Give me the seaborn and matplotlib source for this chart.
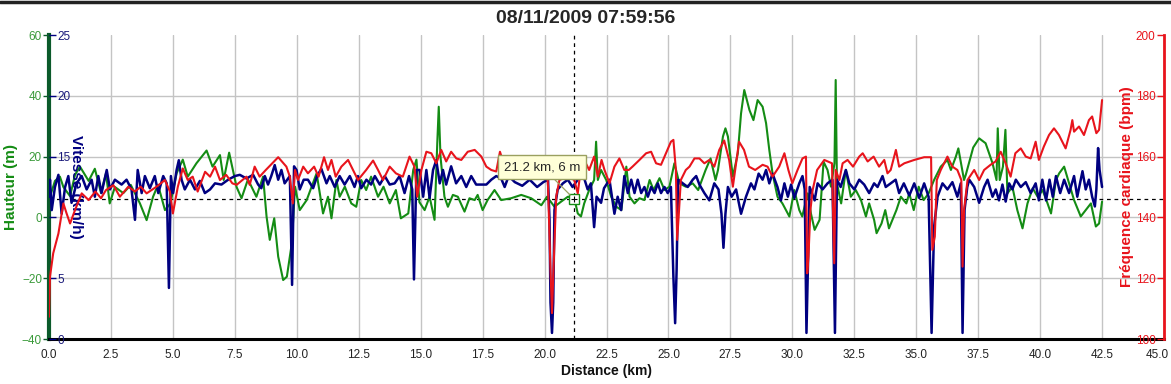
import numpy as np
import pandas as pd
import matplotlib
matplotlib.use("Agg")
import matplotlib.pyplot as plt
from matplotlib.ticker import FormatStrFormatter
from matplotlib.transforms import ScaledTranslation
import seaborn as sns

# Altitude (m)
alt_km = [0.0, 0.24, 0.44, 0.58, 0.85, 1.05, 1.25, 1.6, 1.85, 2.1, 2.3, 2.45, 2.66, 3.0, 3.3, 3.67, 3.94,
          4.2, 4.4, 4.68, 4.9, 5.15, 5.4, 5.6, 5.95, 6.36, 6.6, 6.9, 7.05, 7.27, 7.57, 7.77, 8.03, 8.37,
          8.64, 8.78, 8.91, 9.09, 9.25, 9.45, 9.6, 9.8, 9.93, 10.12, 10.4, 10.8, 11.06, 11.26, 11.4, 11.6,
          11.73, 11.94, 12.2, 12.4, 12.6, 12.8, 13.0, 13.28, 13.5, 13.75, 14.0, 14.2, 14.5, 14.7, 14.83,
          14.95, 15.16, 15.36, 15.56, 15.67, 15.73, 15.8, 15.96, 16.1, 16.3, 16.5, 16.77, 16.97, 17.18,
          17.3, 17.5, 17.7, 17.98, 18.25, 18.65, 19.06, 19.46, 19.87, 20.1, 20.4, 20.67, 20.94, 21.2,
          21.34, 21.47, 21.6, 21.8, 22.0, 22.08, 22.15, 22.28, 22.49, 22.69, 22.9, 23.1, 23.3, 23.43,
          23.63, 23.83, 24.03, 24.24, 24.4, 24.64, 24.84, 25.04, 25.24, 25.44, 25.7, 25.98, 26.2, 26.5,
          26.7, 26.9, 27.0, 27.2, 27.3, 27.4, 27.6, 27.8, 27.93, 28.06, 28.27, 28.43, 28.6, 28.8, 28.94,
          29.07, 29.2, 29.4, 29.6, 29.88, 30.08, 30.28, 30.4, 30.62, 30.75, 30.9, 31.1, 31.26, 31.42,
          31.56, 31.7, 31.75, 31.8, 31.97, 32.16, 32.36, 32.56, 32.77, 32.97, 33.1, 33.3, 33.4, 33.6,
          33.75, 33.9, 34.2, 34.38, 34.6, 34.72, 34.9, 35.1, 35.3, 35.5, 35.72, 35.99, 36.26, 36.4, 36.6,
          36.7, 36.93, 37.0, 37.3, 37.54, 37.8, 38.08, 38.24, 38.29, 38.37, 38.5, 38.6, 38.68, 38.88,
          39.08, 39.29, 39.49, 39.7, 39.9, 40.1, 40.3, 40.44, 40.64, 40.77, 40.97, 41.17, 41.37, 41.64,
          41.84, 42.05, 42.25, 42.38, 42.5]
alt_m = [5.7, 12, 13.4, 10, 7, 14, 16.7, 12, 16, 8, 14.5, 4.6, 10, 8, 10.7, 4.6, -0.9,
         6.8, 10.7, 2.4, 4.6, 14.5, 19, 13.4, 17.8, 22, 16.7, 20.5, 12.3, 21.3, 10, 6.3, 12.5, 6.8,
         13.4, 0.3, -7.4, -0.3, -12.9, -20.6, -19.5, -8.5, 10.1, 2.4, 5.7, 14.5, 1.3, 6.8, -0.3, 12.3,
         6.8, 10.1, 4.6, 3.5, 12.3, 9, 13.4, 6.8, 10.1, 4.6, 9, -0.3, 1.3, 15.6, 19,
         5, 2.4, 6.8, -0.8, 24.4, 36.4, 20, 6.8, 3.5, 7.4, 6.8, 1.9, 6.3, 5.7,
         7.4, 2.4, 5.7, 9, 5.7, 6.3, 7.4, 6.3, 4, 6.8, 3.5, 5.2, 6.8, 6.3,
         1.3, 0.3, 4.6, 9, 12.3, 24.9, 12.3, 15.6, 12.3, 6.8, 3.5, 2.4, 16.7, 6.8,
         4.6, 6.3, 5.7, 12.3, 9, 12.9, 9, 10.1, 17.8, 11.2, 10.1, 11.2, 9, 15.6,
         19.4, 12.3, 15.6, 26.6, 29.3, 26.6, 13.4, 21.1, 34.2, 41.9, 35.3, 32, 38.6, 36.4, 31,
         22.2, 14.5, 6.8, 4.6, 0.3, 9, 2.4, 0.3, 7.9, 1.3, -4.1, -0.8, 18.3, 15.6,
         10.1, 17.8, 45.2, 11.2, 4.6, 15.6, 6.8, 9, 5.7, 0.3, 4.6, -0.8, -5.2, -2,
         2.4, -3.6, 2.4, 6.8, 4.6, 7.9, 2.4, 10.1, 5.7, 7.9, 12.3, 16.7, 18.9, 15.6, 20,
         22.7, 12.3, 14, 23, 26, 24.4, 17.8, 12.3, 29.3, 12.3, 16.7, 28.8, 7.9, 10.1,
         2.4, -3.6, 4.6, 9.6, 6.8, 9, 4.6, 1.3, 12.3, 14.5, 16.7, 11.2, 5.7, 0.3,
         2.4, 4.6, -3, -2, 5.2]

# Speed (km/h)
spd_km = [0.0, 0.04, 0.11, 0.24, 0.38, 0.51, 0.65, 0.78, 0.91, 1.11, 1.32, 1.52, 1.72, 1.85, 1.99, 2.12,
          2.33, 2.46, 2.66, 2.93, 3.13, 3.33, 3.47, 3.58, 3.74, 3.87, 4.07, 4.27, 4.41, 4.61, 4.75, 4.84,
          4.92, 5.01, 5.15, 5.24, 5.35, 5.48, 5.69, 5.89, 6.09, 6.29, 6.5, 6.7, 6.96, 7.23, 7.5, 7.7,
          7.97, 8.24, 8.44, 8.57, 8.71, 8.84, 8.97, 9.11, 9.25, 9.38, 9.51, 9.72, 9.81, 9.89, 9.99,
          10.12, 10.28, 10.45, 10.66, 10.82, 10.99, 11.2, 11.33, 11.53, 11.73, 11.93, 12.14, 12.33,
          12.47, 12.6, 12.81, 13.0, 13.15, 13.35, 13.55, 13.75, 13.95, 14.15, 14.35, 14.53, 14.66,
          14.73, 14.83, 14.96, 15.1, 15.23, 15.36, 15.5, 15.63, 15.77, 15.9, 16.03, 16.23, 16.43,
          16.64, 16.84, 17.04, 17.24, 17.45, 17.65, 17.85, 18.05, 18.25, 18.39, 18.55, 18.8, 19.1,
          19.4, 19.7, 19.95, 20.14, 20.2, 20.24, 20.3, 20.35, 20.4, 20.53, 20.74, 20.94, 21.13, 21.34,
          21.54, 21.74, 21.87, 22.0, 22.1, 22.28, 22.4, 22.62, 22.82, 22.95, 23.09, 23.22, 23.36,
          23.5, 23.63, 23.76, 23.9, 24.03, 24.17, 24.3, 24.44, 24.57, 24.7, 24.84, 24.97, 25.1, 25.2,
          25.27, 25.33, 25.39, 25.58, 25.78, 25.98, 26.12, 26.25, 26.45, 26.65, 26.85, 27.02, 27.14,
          27.22, 27.3, 27.4, 27.55, 27.73, 27.93, 28.13, 28.33, 28.47, 28.64, 28.8, 28.94, 29.07,
          29.2, 29.4, 29.54, 29.68, 29.82, 29.95, 30.08, 30.28, 30.41, 30.5, 30.57, 30.62, 30.7, 30.9,
          31.02, 31.22, 31.42, 31.62, 31.72, 31.8, 31.95, 32.16, 32.3, 32.5, 32.7, 32.9, 33.1, 33.3,
          33.44, 33.64, 33.77, 33.97, 34.17, 34.31, 34.5, 34.72, 34.92, 35.12, 35.32, 35.5, 35.62,
          35.72, 35.86, 36.06, 36.26, 36.46, 36.66, 36.8, 36.87, 36.95, 37.06, 37.14, 37.34, 37.54,
          37.74, 37.88, 38.08, 38.21, 38.34, 38.48, 38.61, 38.75, 38.88, 39.02, 39.22, 39.42, 39.62,
          39.82, 39.95, 40.09, 40.24, 40.38, 40.51, 40.64, 40.81, 40.97, 41.17, 41.37, 41.5, 41.71,
          41.84, 41.97, 42.1, 42.21, 42.27, 42.34, 42.4, 42.5]
spd_kmh = [11.7, 13.1, 10.6, 12.5, 13.5, 10.3, 12.5, 13.4, 11.2, 12.8, 13.4, 12.3, 13.1, 11.7, 13.4, 12,
           13.9, 12.3, 13.1, 12.7, 13.1, 12.3, 9.8, 13.9, 12, 13.4, 12.4, 13.4, 12, 13.4, 12.8, 4.2,
           13.4, 12, 13.9, 14.7, 13.1, 12.3, 13.1, 12.3, 13, 12, 12.3, 12.8, 12.7, 13.1, 13.4, 13.5,
           13.2, 13.5, 12.7, 12.4, 13.4, 12.7, 13.4, 14.3, 13.1, 13.9, 12.8, 13.4, 4.45, 14.2, 13.9,
           12.3, 13.1, 13.1, 12.4, 13.4, 14, 12.8, 13.4, 12.5, 13.4, 12.7, 13.4, 12.5,
           13.4, 12.4, 13.1, 12.7, 13.4, 12.7, 13.4, 12.7, 12.8, 13.4, 12, 13.4, 12.3,
           4.9, 13.9, 13.9, 11.7, 13.9, 11.6, 13.9, 14.7, 12.8, 13.9, 12.7, 14.2, 12.8,
           13.4, 12.5, 13.4, 12.7, 12.7, 12.7, 13.1, 13.4, 13.2, 12.5, 13.4, 12.9, 12.6,
           13.1, 12.5, 12.9, 13.1, 9.8, 3, 0.5, 3, 10.6, 12.3, 12.8, 13.1, 12.5, 13.1,
           13.6, 12.3, 12.8, 9.2, 11.7, 11.2, 12.4, 13.1, 10.3, 11.7, 10.6, 13.4, 12,
           13.1, 12, 13.1, 12, 12.5, 11.7, 12.5, 12, 12.8, 12, 12.5, 12, 12.5, 5.1,
           1.3, 5.7, 13.1, 12.8, 12.5, 13.1, 13.4, 12.7, 12, 11.4, 12.8, 12.3, 10.3,
           7.5, 10.3, 12.5, 11.7, 12.3, 10.3, 11.7, 12.8, 12.3, 13.6, 13.1, 13.9, 12.8,
           13.6, 12.5, 11.4, 12.8, 11.7, 12.7, 11.6, 12.8, 13.4, 12.3, 0.5, 5.1, 12.5, 11.4,
           12.8, 12.3, 12.8, 13.1, 0.5, 13.1, 12.5, 13.9, 12.8, 12.3, 13.1, 12.7, 12, 12.8,
           12.5, 13.4, 12.5, 12.8, 13.1, 12, 12.8, 11.8, 12.8, 11.6, 12.8, 11.7, 0.5,
           9.2, 11.7, 12.8, 12.3, 12.9, 11.7, 12.8, 0.5, 10.6, 12.5, 13.1, 12.5, 11.2,
           12.5, 13.1, 11.7, 12.3, 11.4, 12.7, 11.3, 12.8, 12.3, 13.1, 12.5, 12.9, 12,
           12.8, 11.4, 13.1, 11.4, 13.1, 11.7, 13.4, 12, 13.1, 12, 13.4, 11.7, 13.8,
           12.3, 13.1, 11.7, 10.9, 12.3, 15.7, 13.9, 12.5]

# Heart rate (bpm)
hr_km = [0.0, 0.04, 0.17, 0.38, 0.58, 0.71, 0.85, 1.05, 1.32, 1.6, 1.87, 2.1, 2.3, 2.6, 2.86, 3.2, 3.47,
         3.7, 3.94, 4.34, 4.68, 4.88, 5.0, 5.2, 5.4, 5.6, 5.8, 6.0, 6.3, 6.5, 6.7, 6.9, 7.15, 7.4,
         7.57, 7.97, 8.1, 8.3, 8.5, 8.75, 9.25, 9.58, 9.72, 9.84, 9.93, 10.05, 10.26, 10.45, 10.7,
         10.88, 11.1, 11.26, 11.4, 11.57, 11.8, 12.07, 12.27, 12.47, 12.8, 13.08, 13.28, 13.48, 13.75,
         14.0, 14.28, 14.55, 14.75, 14.86, 15.03, 15.23, 15.43, 15.63, 15.83, 16.03, 16.23, 16.44,
         16.64, 16.9, 17.18, 17.45, 17.65, 17.85, 18.05, 18.2, 18.39, 18.55, 18.79, 19.19, 19.6,
         19.93, 20.07, 20.14, 20.24, 20.3, 20.36, 20.47, 20.6, 20.94, 21.2, 21.34, 21.44, 21.6, 21.8,
         22.0, 22.15, 22.3, 22.42, 22.62, 22.82, 23.02, 23.22, 23.4, 23.55, 23.83, 24.1, 24.3, 24.5,
         24.7, 24.9, 25.1, 25.2, 25.3, 25.35, 25.42, 25.5, 25.7, 25.85, 26.05, 26.25, 26.45, 26.65,
         26.85, 27.05, 27.25, 27.45, 27.6, 27.85, 28.05, 28.25, 28.5, 28.8, 29.0, 29.2, 29.47, 29.68,
         29.84, 30.0, 30.21, 30.41, 30.55, 30.6, 30.65, 30.73, 30.82, 31.0, 31.29, 31.6, 31.69,
         31.75, 31.9, 32.03, 32.23, 32.45, 32.7, 32.84, 33.04, 33.28, 33.5, 33.71, 33.84, 33.97,
         34.18, 34.31, 34.52, 34.92, 35.32, 35.6, 35.65, 35.75, 35.83, 35.99, 36.26, 36.46, 36.66,
         36.82, 36.87, 36.93, 37.07, 37.34, 37.54, 37.74, 38.0, 38.2, 38.41, 38.61, 38.81, 39.0,
         39.22, 39.42, 39.62, 39.82, 39.95, 40.15, 40.36, 40.56, 40.76, 41.03, 41.23, 41.3, 41.37,
         41.57, 41.77, 41.97, 42.1, 42.27, 42.38, 42.5]
hr_bpm = [107.3, 120.5, 128.2, 134.7, 144.6, 141.3, 138, 142.4, 147.9, 145.7, 148.5, 146.3, 149, 150.6,
          146.8, 150.1, 148.5, 150.1, 147.9, 150.1, 152.3, 148.5, 141.3, 150.1, 156.1, 152.3, 153.4,
          148.5, 155, 153.4, 156.7, 152.3, 154, 151.2, 150.7, 153.4, 150.7, 156.7, 153.4, 155.6,
          159.8, 156.7, 153.4, 144.6, 155.6, 152.3, 156.7, 154.5, 156.7, 153.4, 159.8, 155.6, 158.9,
          153.4, 156.7, 158.9, 155.6, 152.3, 155.6, 158.7, 155.6, 152.3, 156.7, 154.5, 153.4, 160,
          156.7, 146.8, 155.6, 161.6, 161.1, 157.8, 162.2, 158.4, 161.6, 159.4, 158.9, 161.6, 162.2,
          160, 156.7, 155.6, 155.1, 161.6, 156.7, 158.9, 156.7, 156.7, 157.3, 156.7, 160, 150.1,
          122.7, 108.5, 122.7, 146.8, 152.3, 153.4, 152.3, 147.9, 154.5, 158.9, 155.6, 160, 153.4,
          158.9, 155.6, 151.2, 156.7, 159.4, 155.6, 155.6, 156.7, 158.9, 161.1, 161.6, 157.8, 157.3,
          161.1, 164.9, 165.5, 155.6, 132.6, 141.3, 152.3, 155.6, 156.7, 159.4, 159.4, 157.8, 158.9,
          156.7, 162.2, 165.3, 158.9, 150.1, 164.9, 162.2, 156.7, 155.6, 157.3, 156.7, 153.4, 156.7,
          161.1, 155.6, 151.2, 155.6, 159.4, 160, 121.6, 127.1, 142.4, 149, 155.6, 158.9, 157.8,
          124.9, 155.6, 152.3, 157.8, 158.9, 156.7, 160, 161.1, 158.4, 160, 156.7, 158.9, 154.5,
          155.6, 162.2, 156.7, 157.8, 158.9, 159.8, 159.8, 129.3, 133.7, 152.3, 155.6, 160, 156.7,
          155.6, 152.3, 123.8, 142.4, 152.3, 155.6, 152.3, 155.6, 157.3, 158.4, 161.6, 157.8, 153.4,
          161.1, 162.7, 160, 159.4, 164.9, 158.9, 163.3, 167.1, 169.3, 167.1, 162.7, 168.8, 172,
          168.2, 169.9, 167.1, 172, 173.2, 167.7, 168.8, 178.6]

# cursor shown in the chart
cursor_km = 21.2
cursor_m = 6
title = "08/11/2009 07:59:56"

GREEN = "#148c14"
NAVY = "#000080"
RED = "#e8141c"
TICK_GREEN = "#3a9a3a"

alt = pd.DataFrame({"km": alt_km, "m": alt_m})
spd = pd.DataFrame({"km": spd_km, "kmh": spd_kmh})
hr = pd.DataFrame({"km": hr_km, "bpm": hr_bpm})

sns.set_style("white")
plt.rcParams["font.family"] = ["Liberation Sans", "DejaVu Sans"]

fig = plt.figure(figsize=(11.71, 3.84), dpi=100)
ax = fig.add_axes([49 / 1171, 45 / 384, 1115 / 1171, 304 / 384])
ax_v = ax.twinx()
ax_hr = ax.twinx()

# grid + crosshair on the altitude axes (bottom layer)
ax.set_xlim(0, 45)
ax.set_ylim(-40, 60)
ax.set_xticks(np.arange(0, 45.1, 2.5))
ax.set_yticks([-40, -20, 0, 20, 40, 60])
ax.xaxis.set_major_formatter(FormatStrFormatter("%.1f"))
ax.grid(True, color="#c4c4c4", linewidth=1)
ax.axhline(cursor_m, color="black", lw=0.9, ls=(0, (3, 3)), zorder=1)
ax.axvline(cursor_km, color="black", lw=0.9, ls=(0, (3, 3)), zorder=1)

sns.lineplot(data=alt, x="km", y="m", ax=ax, color=GREEN, linewidth=1.5, sort=False, estimator=None)
sns.lineplot(data=spd, x="km", y="kmh", ax=ax_v, color=NAVY, linewidth=1.8, sort=False, estimator=None)
sns.lineplot(data=hr, x="km", y="bpm", ax=ax_hr, color=RED, linewidth=1.5, sort=False, estimator=None)

# altitude axis (outer left)
for s in ["top", "right"]:
    ax.spines[s].set_visible(False)
ax.spines["left"].set_color("#0b5a2a")
ax.spines["left"].set_linewidth(3)
ax.spines["bottom"].set_color("black")
ax.spines["bottom"].set_linewidth(2.2)
ax.tick_params(axis="y", direction="out", length=4, width=1, color="#0b5a2a",
               labelcolor=TICK_GREEN, labelsize=8.5, pad=1)
ax.tick_params(axis="x", direction="out", length=3, width=1, color="black",
               labelcolor="#222222", labelsize=8.5, pad=4)
ax.set_ylabel("Hauteur (m)", color=GREEN, fontweight="bold", fontsize=11, labelpad=3)
ax.set_xlabel("Distance (km)", fontweight="bold", fontsize=10, labelpad=2, color="#111111")

# speed axis (inner left, labels inside the plot)
ax_v.set_ylim(0, 25)
ax_v.yaxis.tick_right()
ax_v.yaxis.set_label_position("right")
ax_v.spines["right"].set_position(("axes", 0))
for s in ["top", "right", "left", "bottom"]:
    ax_v.spines[s].set_visible(False)
ax_v.set_yticks([0, 5, 10, 15, 20, 25], labels=["0", "5", "", "15", "20", "25"])
ax_v.tick_params(axis="y", direction="out", length=5, width=1, color=NAVY,
                 labelcolor="#1a1a7a", labelsize=8.5, pad=1)
ax_v.set_ylabel("Vitesse (km/h)", color=NAVY, fontweight="bold", fontsize=11,
                rotation=270, labelpad=9)

# heart rate axis (right, labels inside the plot)
ax_hr.set_ylim(100, 200)
ax_hr.yaxis.tick_left()
ax_hr.yaxis.set_label_position("left")
ax_hr.spines["left"].set_position(("axes", 1))
ax_hr.spines["left"].set_color(RED)
ax_hr.spines["left"].set_linewidth(2)
for s in ["top", "right", "bottom"]:
    ax_hr.spines[s].set_visible(False)
ax_hr.set_yticks([100, 120, 140, 160, 180, 200])
ax_hr.tick_params(axis="y", direction="out", length=5, width=1, color=RED,
                  labelcolor=RED, labelsize=8.5, pad=1)
ax_hr.set_ylabel("Fréquence cardiaque (bpm)", color=RED, fontweight="bold", fontsize=11, labelpad=1)

# cursor marker and tooltip
ax.plot([cursor_km], [cursor_m], marker="s", ms=7, mfc="white", mec=GREEN, mew=1, zorder=5)
ax.plot([cursor_km], [cursor_m], marker="+", ms=5, color="black", mew=0.8, zorder=6)
ax_hr.annotate(f"{cursor_km} km, {cursor_m} m", xy=(cursor_km, cursor_m), xycoords=ax.transData,
               xytext=(-23, 23), textcoords="offset points", ha="center", va="center", fontsize=9.5,
               bbox=dict(boxstyle="square,pad=0.45", fc="#ffffd8", ec="#9aa060", lw=1),
               arrowprops=dict(arrowstyle="-", color="#9aa060", lw=0.9, shrinkA=0, shrinkB=4),
               zorder=10)

# hide the gridline sitting on the top edge, keep the last x label inside the figure
fig.canvas.draw()
ax.get_ygridlines()[-1].set_visible(False)
last = ax.get_xticklabels()[-1]
last.set_ha("right")
last.set_transform(last.get_transform() + ScaledTranslation(5 / 100, 0, fig.dpi_scale_trans))

fig.suptitle(title, y=0.953, va="center", fontweight="bold", fontsize=14)
fig.add_artist(plt.Line2D([0, 1], [0.996, 0.996], color="#222222", lw=2.5, transform=fig.transFigure))

fig.savefig("out.png", dpi=100)
